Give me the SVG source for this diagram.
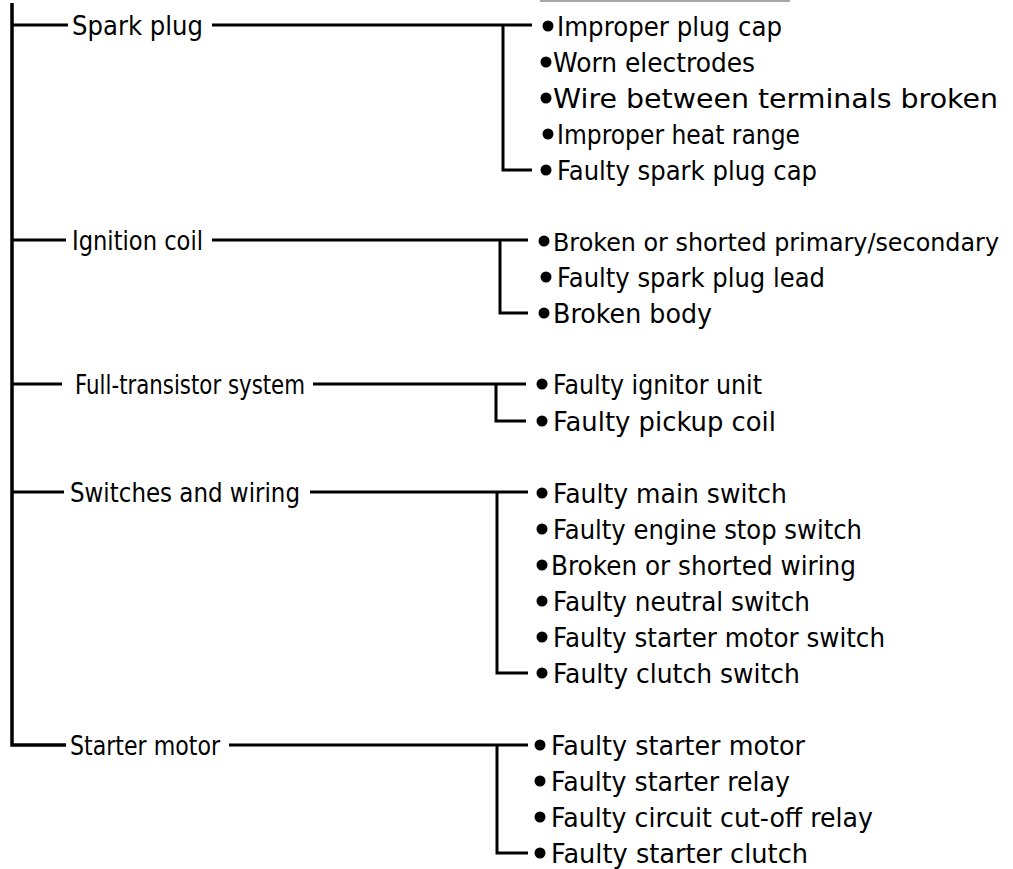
<svg xmlns="http://www.w3.org/2000/svg" width="1013" height="869" viewBox="0 0 1013 869">
<style>
.c{fill:none;stroke:#000;stroke-width:3;stroke-linecap:butt;stroke-linejoin:miter}
.t{font-family:"DejaVu Sans","Liberation Sans",sans-serif;font-size:26px;fill:#000}
.b{fill:#000}
</style>
<rect width="1013" height="869" fill="#fff"/>
<line x1="540" y1="1" x2="790" y2="1" stroke="#8a8a8a" stroke-width="1.5"/>
<g id="connectors">
<path class="c" d="M12,3 V745 H66" style="stroke-width:3.5"/>
<path class="c" d="M12,25 H68"/>
<path class="c" d="M12,240 H66"/>
<path class="c" d="M12,384 H62"/>
<path class="c" d="M12,492 H64"/>
<path class="c" d="M212,25 H532 M503,25 V170 H532"/>
<path class="c" d="M212,240 H528 M500,240 V313 H528"/>
<path class="c" d="M313,384 H526 M496,384 V421 H526"/>
<path class="c" d="M310,492 H528 M497,492 V673 H528"/>
<path class="c" d="M229,745 H528 M497,745 V853 H528"/>
</g>
<g id="spark-plug"><text class="t" x="72" y="35" textLength="131" lengthAdjust="spacingAndGlyphs">Spark plug</text></g>
<g id="ignition-coil"><text class="t" x="72" y="250" textLength="131" lengthAdjust="spacingAndGlyphs">Ignition coil</text></g>
<g id="full-transistor"><text class="t" x="75" y="394" textLength="230" lengthAdjust="spacingAndGlyphs">Full-transistor system</text></g>
<g id="switches"><text class="t" x="70" y="502" textLength="230" lengthAdjust="spacingAndGlyphs">Switches and wiring</text></g>
<g id="starter-motor"><text class="t" x="70" y="755" textLength="150" lengthAdjust="spacingAndGlyphs">Starter motor</text></g>
<g id="spark-causes">
<circle class="b" cx="548" cy="26" r="5.5"/><text class="t" x="557" y="36" textLength="225" lengthAdjust="spacingAndGlyphs">Improper plug cap</text>
<circle class="b" cx="546" cy="62" r="5.5"/><text class="t" x="553" y="72" textLength="202" lengthAdjust="spacingAndGlyphs">Worn electrodes</text>
<circle class="b" cx="546" cy="98" r="5.5"/><text class="t" x="553" y="108" textLength="445" lengthAdjust="spacingAndGlyphs">Wire between terminals broken</text>
<circle class="b" cx="548" cy="134" r="5.5"/><text class="t" x="557" y="144" textLength="243" lengthAdjust="spacingAndGlyphs">Improper heat range</text>
<circle class="b" cx="546" cy="170" r="5.5"/><text class="t" x="557" y="180" textLength="260" lengthAdjust="spacingAndGlyphs">Faulty spark plug cap</text>
</g>
<g id="ignition-causes">
<circle class="b" cx="544" cy="241" r="5.5"/><text class="t" x="553" y="251" style="font-size:24px" textLength="446" lengthAdjust="spacingAndGlyphs">Broken or shorted primary/secondary</text>
<circle class="b" cx="546" cy="277" r="5.5"/><text class="t" x="557" y="287" textLength="268" lengthAdjust="spacingAndGlyphs">Faulty spark plug lead</text>
<circle class="b" cx="544" cy="313" r="5.5"/><text class="t" x="553" y="323" textLength="159" lengthAdjust="spacingAndGlyphs">Broken body</text>
</g>
<g id="transistor-causes">
<circle class="b" cx="542" cy="384" r="5.5"/><text class="t" x="553" y="394" textLength="209" lengthAdjust="spacingAndGlyphs">Faulty ignitor unit</text>
<circle class="b" cx="542" cy="421" r="5.5"/><text class="t" x="553" y="431" textLength="223" lengthAdjust="spacingAndGlyphs">Faulty pickup coil</text>
</g>
<g id="switch-causes">
<circle class="b" cx="542" cy="493" r="5.5"/><text class="t" x="553" y="503" textLength="234" lengthAdjust="spacingAndGlyphs">Faulty main switch</text>
<circle class="b" cx="542" cy="529" r="5.5"/><text class="t" x="553" y="539" textLength="309" lengthAdjust="spacingAndGlyphs">Faulty engine stop switch</text>
<circle class="b" cx="542" cy="565" r="5.5"/><text class="t" x="551" y="575" textLength="305" lengthAdjust="spacingAndGlyphs">Broken or shorted wiring</text>
<circle class="b" cx="542" cy="601" r="5.5"/><text class="t" x="553" y="611" textLength="257" lengthAdjust="spacingAndGlyphs">Faulty neutral switch</text>
<circle class="b" cx="542" cy="637" r="5.5"/><text class="t" x="553" y="647" textLength="332" lengthAdjust="spacingAndGlyphs">Faulty starter motor switch</text>
<circle class="b" cx="542" cy="673" r="5.5"/><text class="t" x="553" y="683" textLength="247" lengthAdjust="spacingAndGlyphs">Faulty clutch switch</text>
</g>
<g id="starter-causes">
<circle class="b" cx="540" cy="745" r="5.5"/><text class="t" x="551" y="755" textLength="254" lengthAdjust="spacingAndGlyphs">Faulty starter motor</text>
<circle class="b" cx="540" cy="781" r="5.5"/><text class="t" x="551" y="791" textLength="239" lengthAdjust="spacingAndGlyphs">Faulty starter relay</text>
<circle class="b" cx="540" cy="817" r="5.5"/><text class="t" x="551" y="827" textLength="322" lengthAdjust="spacingAndGlyphs">Faulty circuit cut-off relay</text>
<circle class="b" cx="540" cy="853" r="5.5"/><text class="t" x="551" y="863" textLength="257" lengthAdjust="spacingAndGlyphs">Faulty starter clutch</text>
</g>
</svg>
